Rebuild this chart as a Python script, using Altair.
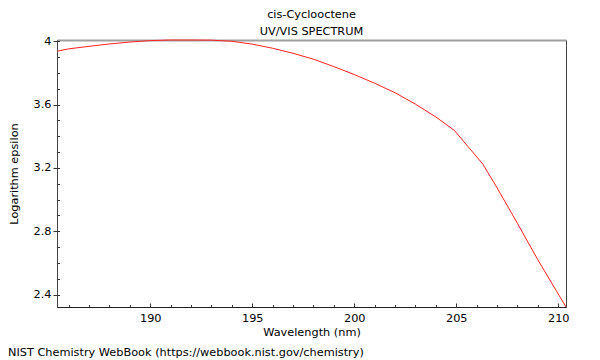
import altair as alt
import pandas as pd

# Data
wavelength = [185.43, 186, 187, 188, 189, 190, 191, 192, 193, 194, 195, 196, 197,
              198, 199, 200, 201, 202, 203, 204, 204.9, 206.3, 207, 208, 209, 210.38]
log_eps = [3.937, 3.952, 3.968, 3.983, 3.995, 4.004, 4.008, 4.008, 4.007, 4.0, 3.982,
           3.956, 3.924, 3.887, 3.840, 3.790, 3.735, 3.675, 3.603, 3.522, 3.438,
           3.225, 3.075, 2.85, 2.62, 2.322]

x_major = [190, 195, 200, 205, 210]
x_minor = list(range(186, 211))
y_major = [2.4, 2.8, 3.2, 3.6, 4.0]
y_minor = [round(2.4 + 0.1 * i, 1) for i in range(17)]

title_lines = ["cis-Cyclooctene", "UV/VIS SPECTRUM"]
footer = ["NIST Chemistry WebBook (https://webbook.nist.gov/chemistry)"]

W, H = 509, 267
FONT = "DejaVu Sans"
FS = 11.3

df = pd.DataFrame({"wl": wavelength, "le": log_eps})
fdf = pd.DataFrame({"t": footer})

xs = alt.Scale(domain=[185.43, 210.38], nice=False, zero=False)
ys = alt.Scale(domain=[2.322, 4.008], nice=False, zero=False)

base = alt.Chart(df)


def lay(xaxis, yaxis, visible=False):
    m = base.mark_line(color="#ff2020", strokeWidth=1, opacity=1 if visible else 0)
    return m.encode(
        x=alt.X("wl:Q", scale=xs, axis=xaxis),
        y=alt.Y("le:Q", scale=ys, axis=yaxis),
    )


main = lay(
    alt.Axis(orient="bottom", values=x_major, ticks=False, tickSize=0, labelPadding=5,
             title="Wavelength (nm)", titlePadding=3, domainColor="#222"),
    alt.Axis(orient="left", values=y_major, format="~g", tickSize=4, labelPadding=2,
             title="Logarithm epsilon", titlePadding=14, domainColor="#444"),
    visible=True,
)

x_major_in = lay(
    alt.Axis(orient="top", offset=-H, values=x_major, tickSize=4, domain=False,
             labels=False, title=None),
    None,
)
x_minor_in = lay(
    alt.Axis(orient="top", offset=-H, values=x_minor, tickSize=2.5, domain=False,
             labels=False, title=None),
    None,
)
y_minor_in = lay(
    None,
    alt.Axis(orient="right", offset=-W, values=y_minor, tickSize=2.5, domain=False,
             labels=False, title=None),
)
top_border = lay(
    alt.Axis(orient="top", ticks=False, labels=False, title=None,
             domainColor="#a0a0a0", domainWidth=2),
    None,
)

foot = alt.Chart(fdf).mark_text(
    align="left", baseline="middle", font=FONT, fontSize=FS, color="black"
).encode(x=alt.value(-49), y=alt.value(313), text="t:N")

chart = (
    alt.layer(main, x_major_in, x_minor_in, y_minor_in, top_border, foot)
    .resolve_axis(x="independent", y="independent")
    .properties(
        width=W,
        height=H,
        title=alt.TitleParams(title_lines, fontSize=FS, fontWeight="normal", font=FONT,
                              color="black", lineHeight=17, offset=-2, anchor="middle"),
        autosize=alt.AutoSizeParams(type="none"),
        padding={"left": 49, "top": 32, "right": 26, "bottom": 53},
    )
    .configure_view(stroke="#444", strokeWidth=1)
    .configure_axis(
        grid=False,
        labelFont=FONT, labelFontSize=FS, labelColor="black",
        titleFont=FONT, titleFontSize=FS, titleFontWeight="normal", titleColor="black",
        tickColor="#333", domainColor="#333",
    )
)

chart.save("out.html", embed_options={"renderer": "svg", "actions": False})
